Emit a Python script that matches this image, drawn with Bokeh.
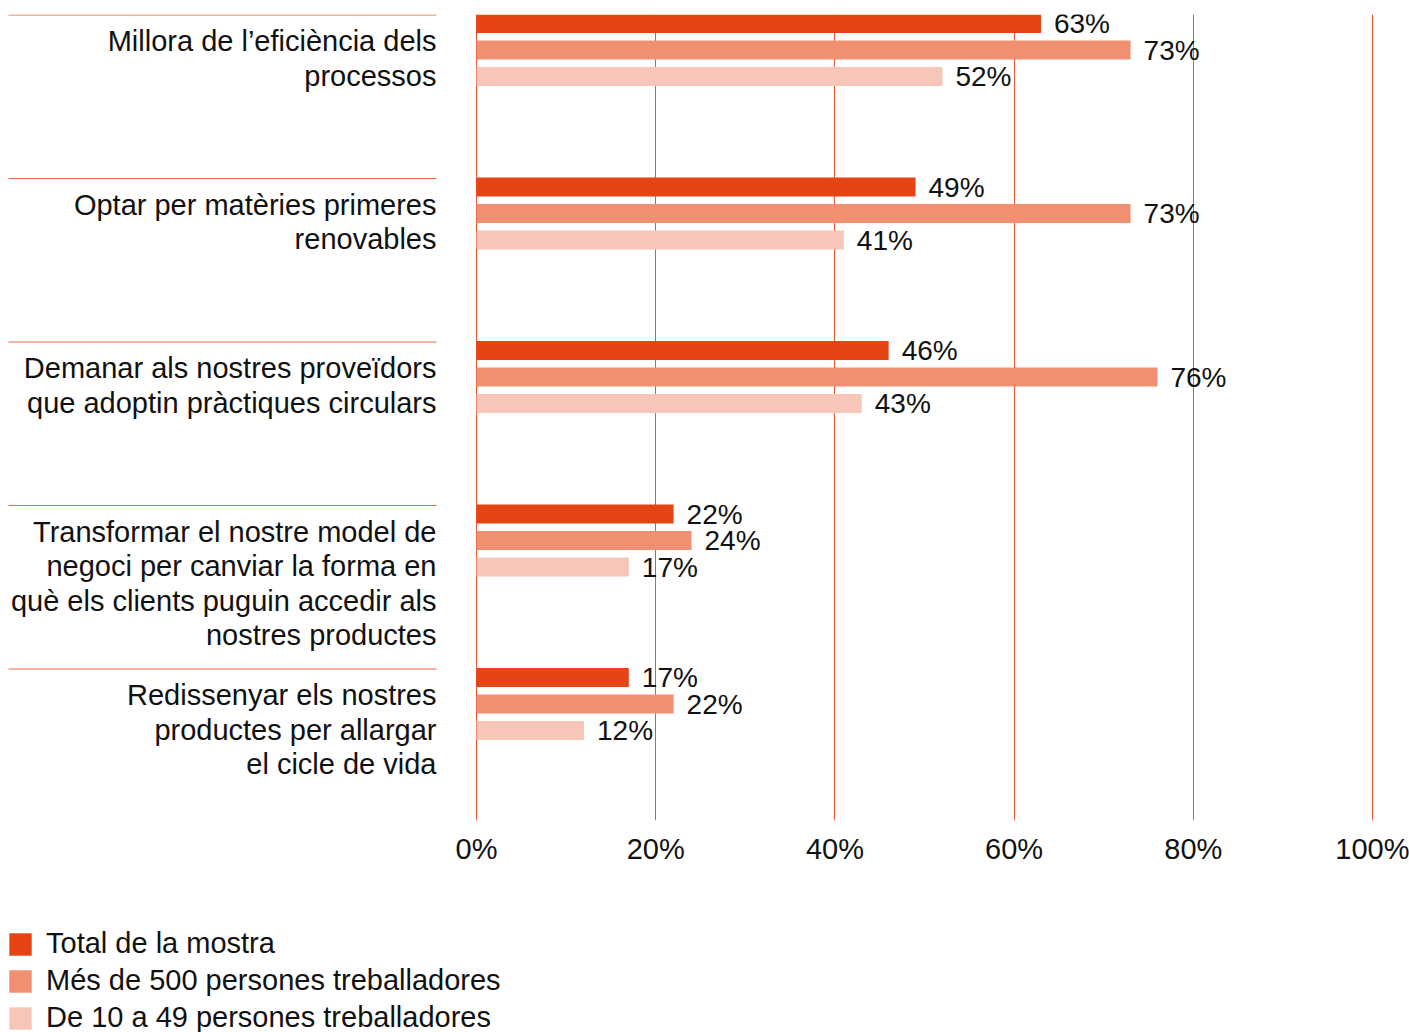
from bokeh.plotting import figure
from bokeh.layouts import column
from bokeh.models import (ColumnDataSource, Range1d, FixedTicker, Legend, LegendItem,
                          CustomJSTickFormatter)
from bokeh.core.properties import value
from bokeh.embed import file_html
from bokeh.resources import INLINE

categories = [
    "Millora de l\u2019efici\u00e8ncia dels\nprocessos",
    "Optar per mat\u00e8ries primeres\nrenovables",
    "Demanar als nostres prove\u00efdors\nque adoptin pr\u00e0ctiques circulars",
    "Transformar el nostre model de\nnegoci per canviar la forma en\nqu\u00e8 els clients puguin accedir als\nnostres productes",
    "Redissenyar els nostres\nproductes per allargar\nel cicle de vida",
]
series_names = ["Total de la mostra", "M\u00e9s de 500 persones treballadores",
                "De 10 a 49 persones treballadores"]
total = [63, 49, 46, 22, 17]
large = [73, 73, 76, 24, 22]
small = [52, 41, 43, 17, 12]
ticks = [0, 20, 40, 60, 80, 100]

colors = ["#E64415", "#F08F72", "#F7C6B9"]
line_col = "#E9552F"
sep_col = "#EC6A45"
FONT = "Liberation Sans"

W = 1409
H1 = 905
H2 = 1032 - H1
px_per_pct = 8.96
zero_px = 476
group_px = 163.5
center0_px = 49.5
top_px = 14
bottom_px = 820

x_start = -zero_px / px_per_pct
x_end = (W - zero_px) / px_per_pct
y_top = (top_px - center0_px) / group_px
y_bot = (bottom_px - center0_px) / group_px

p = figure(width=W, height=H1, output_backend="svg", toolbar_location=None,
           x_range=Range1d(x_start, x_end), y_range=Range1d(y_bot, y_top),
           min_border_left=0, min_border_right=0, min_border_top=top_px,
           min_border_bottom=H1 - bottom_px)
p.outline_line_color = None
p.background_fill_color = None
p.border_fill_color = "white"
p.yaxis.visible = False
p.ygrid.visible = False

xa = p.xaxis[0]
xa.ticker = FixedTicker(ticks=ticks)
xa.formatter = CustomJSTickFormatter(code="return tick + '%';")
xa.axis_line_color = None
xa.major_tick_line_color = None
xa.minor_tick_line_color = None
xa.major_label_text_font = FONT
xa.major_label_text_font_size = "29px"
xa.major_label_text_color = "#111111"
xa.major_label_standoff = 6

p.xgrid.ticker = FixedTicker(ticks=ticks)
p.xgrid.grid_line_color = line_col
p.xgrid.grid_line_width = 1

n = len(categories)
idx = list(range(n))
offs = [-26.5 / group_px, 0.0, 26.5 / group_px]
bar_h = 19 / group_px
sep_off = -35 / group_px
label_x = -40 / px_per_pct
sep_x0 = -(zero_px - 8) / px_per_pct

# separators
p.segment(x0=[sep_x0] * n, x1=[label_x] * n, y0=[i + sep_off for i in idx],
          y1=[i + sep_off for i in idx], line_color=sep_col, line_width=1)

# category labels
p.text(x=[0] * n, y=[i + sep_off for i in idx], text=categories, x_offset=-40, y_offset=10,
       text_align="right", text_baseline="top", text_font=value(FONT),
       text_font_size="29px", text_color="#111111", text_line_height=1.08)

sources = []
for k, vals in enumerate([total, large, small]):
    src = ColumnDataSource(dict(y=[i + offs[k] for i in idx], v=vals,
                                lab=[f"{v}%" for v in vals]))
    sources.append(src)
    p.hbar(y="y", left=0, right="v", height=bar_h, source=src,
           fill_color=colors[k], line_color=None)
    p.text(x="v", y="y", text="lab", source=src, x_offset=13, text_baseline="middle",
           text_align="left", text_font=value(FONT), text_font_size="28px",
           text_color="#111111")

# legend panel (separate figure so the legend is not clipped by the chart frame)
p2 = figure(width=W, height=H2, output_backend="svg", toolbar_location=None,
            x_range=Range1d(-10, -5), y_range=Range1d(-1, 6),
            min_border_left=0, min_border_right=0, min_border_top=0, min_border_bottom=0)
p2.outline_line_color = None
p2.axis.visible = False
p2.grid.visible = False
leg_renderers = []
for k in range(3):
    r = p2.hbar(y="y", left=0, right="v", height=bar_h, source=sources[k],
                fill_color=colors[k], line_color=None)
    leg_renderers.append(r)

legend = Legend(items=[LegendItem(label=series_names[k], renderers=[leg_renderers[k]])
                       for k in range(3)],
                location=(6, -2), orientation="vertical",
                glyph_width=28, glyph_height=28,
                label_standoff=12, spacing=4, padding=0, margin=0,
                border_line_color=None, background_fill_alpha=0,
                label_text_font=FONT, label_text_font_size="29px",
                label_text_color="#111111")
p2.add_layout(legend, "center")

layout = column(p, p2, spacing=0)
open("out.html", "w").write(file_html(layout, INLINE))
